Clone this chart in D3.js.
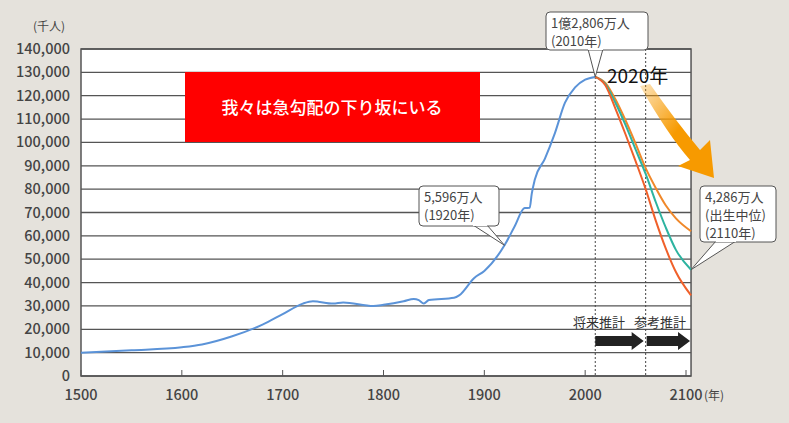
<!DOCTYPE html><html><head><meta charset="utf-8"><script src="https://cdn.jsdelivr.net/npm/d3@7"></script>
<style>body{margin:0;background:#e5e2dc}text{font-family:"Noto Sans CJK JP","Noto Sans",sans-serif}</style></head><body>
<svg id="c" width="789" height="423"></svg>
<script>
const histYears=[1500,1550,1600,1620,1650,1680,1700,1720,1730,1750,1760,1790,1800,1820,1830,1835,1840,1845,1870,1875,1890,1900,1920,1930,1940,1945,1947,1950,1960,1970,1980,1990,2000,2010];
const histPop=[10000,11000,12300,13500,17000,22000,26500,31000,32000,31000,31500,30000,30500,32000,33000,32500,31000,32500,33500,34500,42000,45000,55960,64000,71900,72000,78000,84000,93000,104000,117000,123600,126900,128060];
const projYears=[2010,2020,2030,2040,2050,2060,2070,2080,2090,2105];
const projHigh=[128060,125500,118500,109500,99500,89000,80500,73000,67500,62000];
const projMid=[128060,125000,117000,107500,97000,86500,74500,63500,54000,45500];
const projLow=[128060,124500,114500,103500,92000,80000,66500,54500,44500,34500];
const yTicks=d3.range(0,140001,10000);
const xTicks=[1500,1600,1700,1800,1900,2000,2100];
const svg=d3.select("#c");
const x=d3.scaleLinear().domain([1500,2100]).range([81,686]);
const y=d3.scaleLinear().domain([0,140000]).range([376,49]);
const R=x(2105);
const defs=svg.append("defs");
const gr=defs.append("linearGradient").attr("id","og").attr("x1","0").attr("y1","0").attr("x2","1").attr("y2","1");
gr.append("stop").attr("offset","0").attr("stop-color","#f79a00").attr("stop-opacity",0.25);
gr.append("stop").attr("offset","0.5").attr("stop-color","#f79a00").attr("stop-opacity",1);
svg.append("rect").attr("x",81).attr("y",49).attr("width",R-81).attr("height",327).attr("fill","#fff").attr("stroke","#555").attr("stroke-width",1.5);
yTicks.forEach(t=>{svg.append("line").attr("x1",81).attr("x2",R).attr("y1",y(t)).attr("y2",y(t)).attr("stroke","#555").attr("stroke-width",1.3);
svg.append("text").attr("x",70).attr("y",y(t)+5).attr("text-anchor","end").attr("font-size",14.5).attr("font-weight",500).attr("fill","#444").text(d3.format(",")(t));});
xTicks.forEach(t=>{svg.append("line").attr("x1",x(t)).attr("x2",x(t)).attr("y1",376).attr("y2",370).attr("stroke","#555");
svg.append("text").attr("x",x(t)).attr("y",400).attr("text-anchor","middle").attr("font-size",14.5).attr("font-weight",500).attr("fill","#444").text(t);});
svg.append("text").attr("x",704).attr("y",400).attr("font-size",12).attr("fill","#444").text("(年)");
svg.append("text").attr("x",33).attr("y",31).attr("font-size",12).attr("fill","#444").text("(千人)");
[2010,2060].forEach(t=>svg.append("line").attr("x1",x(t)).attr("x2",x(t)).attr("y1",49).attr("y2",376).attr("stroke","#444").attr("stroke-dasharray","2,2"));
const line=(xs,ys)=>d3.line().curve(d3.curveMonotoneX).x((d,i)=>x(xs[i])).y(d=>y(d))(ys);
svg.append("path").attr("d",line(histYears,histPop)).attr("fill","none").attr("stroke","#5b93d8").attr("stroke-width",2);
[[projHigh,"#f0882a"],[projMid,"#2db3a0"],[projLow,"#f0602a"]].forEach(([d,c])=>svg.append("path").attr("d",line(projYears,d)).attr("fill","none").attr("stroke",c).attr("stroke-width",2));
svg.append("rect").attr("x",185).attr("y",72).attr("width",295).attr("height",70).attr("fill","#ff0000");
svg.append("text").attr("x",332).attr("y",114).attr("text-anchor","middle").attr("font-size",17).attr("font-weight",500).attr("fill","#fff").text("我々は急勾配の下り坂にいる");
function callout(bx,by,w,h,tip,base,lines){
 const g=svg.append("g");
 g.append("path").attr("d",`M${base[0]},${base[1]}L${tip[0]},${tip[1]}L${base[2]},${base[3]}`).attr("fill","#fff").attr("stroke","#555");
 g.append("rect").attr("x",bx).attr("y",by).attr("width",w).attr("height",h).attr("rx",4).attr("fill","#fff").attr("stroke","#555");
 g.append("path").attr("d",`M${base[0]},${base[1]}L${base[2]},${base[3]}`).attr("stroke","#fff").attr("stroke-width",2);
 lines.forEach((l,i)=>g.append("text").attr("x",bx+5).attr("y",by+16+i*18).attr("font-size",13).attr("fill","#444").text(l));
}
callout(419,186,80,40,[x(1920),y(55960)],[473,225,487,225],["5,596万人","(1920年)"]);
callout(546,12,102,38,[x(2010),y(128060)],[588,49,603,49],["1億2,806万人","(2010年)"]);
callout(700,186,76,56,[x(2105),y(45500)],[716,241,736,241],["4,286万人","(出生中位)","(2110年)"]);
svg.append("text").attr("x",607).attr("y",83).attr("font-size",19).attr("fill","#111").text("2020年");
svg.append("path").attr("d","M640,86 Q668,135 690,160 L678,166 L714,178 L710,140 L700,150 Q675,120 650,84 Z").attr("fill","url(#og)");
svg.append("text").attr("x",573).attr("y",327).attr("font-size",13).attr("fill","#333").text("将来推計");
svg.append("text").attr("x",634).attr("y",327).attr("font-size",13).attr("fill","#333").text("参考推計");
function arrow(x1,x2){svg.append("path").attr("d",`M${x1},336 L${x2-12},336 L${x2-12},332 L${x2},341 L${x2-12},350 L${x2-12},346 L${x1},346Z`).attr("fill","#222");}
arrow(x(2010),x(2060)-2);arrow(x(2060)+1,R-1);
</script></body></html>
